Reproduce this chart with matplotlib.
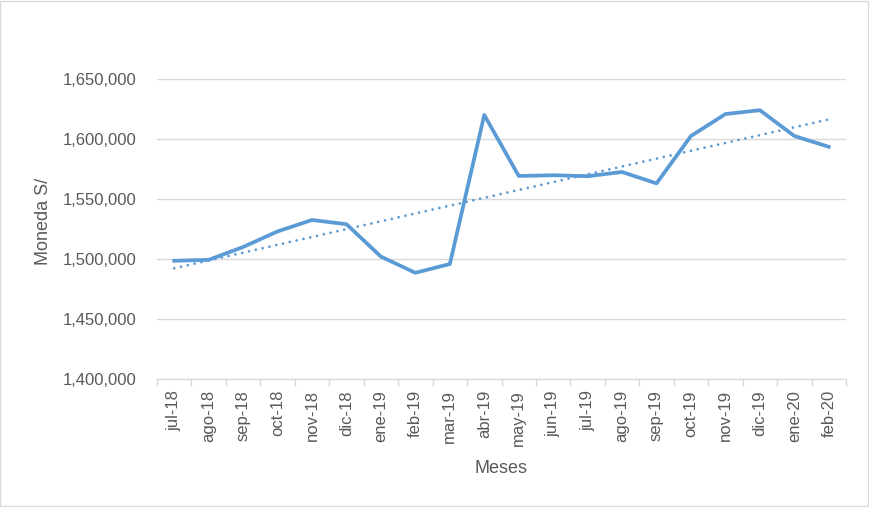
import numpy as np
import matplotlib.pyplot as plt
from matplotlib.ticker import FuncFormatter, FixedLocator
from matplotlib.patches import Rectangle

meses = ["jul-18", "ago-18", "sep-18", "oct-18", "nov-18", "dic-18",
         "ene-19", "feb-19", "mar-19", "abr-19", "may-19", "jun-19",
         "jul-19", "ago-19", "sep-19", "oct-19", "nov-19", "dic-19",
         "ene-20", "feb-20"]
montos = [1498500, 1499300, 1510000, 1523000, 1532500, 1529000,
          1502000, 1488500, 1495800, 1620000, 1569200, 1569800,
          1569000, 1572500, 1563000, 1602500, 1620800, 1624000,
          1602500, 1593500]

azul = "#5B9BD5"
gris = "#D9D9D9"
texto = "#595959"

plt.rcParams["font.family"] = ["Liberation Sans", "DejaVu Sans"]

fig = plt.figure(figsize=(8.69, 5.07), dpi=100)
ax = fig.add_axes([157 / 869, 1 - 379 / 507, 689 / 869, 300 / 507])
fig.patches.append(Rectangle((0.0005, 0.001), 0.998, 0.997, transform=fig.transFigure,
                             fill=False, edgecolor=gris, linewidth=1))

x = np.arange(len(meses))
ax.plot(x, montos, color=azul, linewidth=2.7, solid_joinstyle="round", zorder=3)

# linea de tendencia lineal
m, b = np.polyfit(x, montos, 1)
ax.plot(x, m * x + b, color=azul, linewidth=2.0, linestyle=(0, (0.01, 2.5)),
        dash_capstyle="round", zorder=3)

ax.set_xlim(-0.5, len(meses) - 0.5)
ax.set_ylim(1400000, 1650000)
ax.set_yticks(np.arange(1400000, 1650001, 50000))
ax.yaxis.set_major_formatter(FuncFormatter(lambda v, p: f"{v:,.0f}"))
ax.grid(axis="y", color=gris, linewidth=1)
ax.set_axisbelow(True)

ax.set_xticks(x)
ax.set_xticklabels(meses, rotation=90)
ax.xaxis.set_minor_locator(FixedLocator(np.arange(-0.5, len(meses), 1)))
ax.tick_params(axis="x", which="major", length=0, pad=8, labelsize=12, labelcolor=texto)
ax.tick_params(axis="x", which="minor", length=5, color=gris, width=1)
ax.tick_params(axis="y", length=0, pad=15, labelsize=12, labelcolor=texto)

for s in ["top", "right", "left"]:
    ax.spines[s].set_visible(False)
ax.spines["bottom"].set_color(gris)

ax.set_xlabel("Meses", fontsize=13, color=texto, labelpad=10)
ax.set_ylabel("Moneda S/", fontsize=13, color=texto)
ax.yaxis.set_label_coords(-0.152, 0.525)

fig.savefig("out.png", dpi=100)
